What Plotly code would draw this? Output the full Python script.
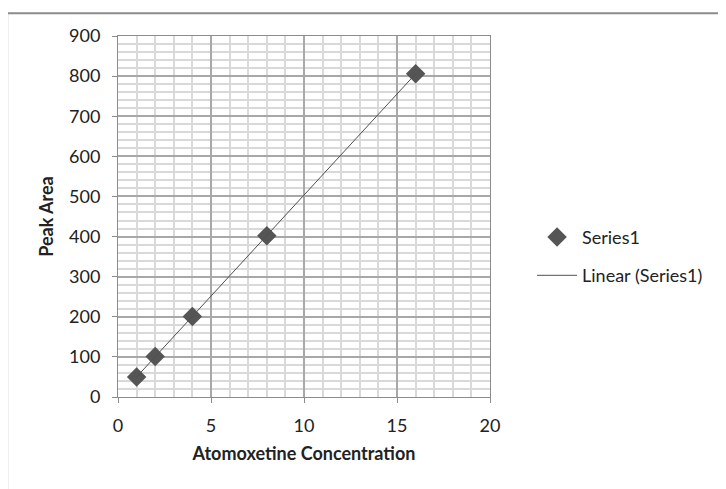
import numpy as np
import plotly.graph_objects as go

concentration = [1, 2, 4, 8, 16]
peak_area = [50, 101, 201, 402, 806]

x_ticks = [0, 5, 10, 15, 20]
y_ticks = [0, 100, 200, 300, 400, 500, 600, 700, 800, 900]

slope, intercept = np.polyfit(concentration, peak_area, 1)
fit_x = [min(concentration), max(concentration)]
fit_y = [slope * v + intercept for v in fit_x]

FONT = "Lato"

fig = go.Figure()
fig.add_trace(go.Scatter(
    x=concentration, y=peak_area, mode="markers", name="Series1",
    legendgroup="g1",
    marker=dict(symbol="diamond", size=15, color="#555555",
                line=dict(width=0)),
))
fig.add_trace(go.Scatter(
    x=fit_x, y=fit_y, mode="lines", name="Linear (Series1)",
    legendgroup="g2",
    line=dict(color="#505050", width=1),
))

axis_common = dict(
    showline=True, linecolor="#8c8c8c", linewidth=1, mirror=True,
    ticks="outside", ticklen=5, tickcolor="#8c8c8c",
    showgrid=True, gridcolor="#a8a8a8", gridwidth=1.5,
    zeroline=False,
    tickfont=dict(family=FONT, size=18, color="#222222"),
)

fig.update_xaxes(
    range=[0, 20], tickvals=x_ticks, ticklabelstandoff=7,
    minor=dict(dtick=1, showgrid=True, gridcolor="#d9d9d9", gridwidth=2, ticks=""),
    title=dict(text="<b>Atomoxetine Concentration</b>",
               font=dict(family=FONT, size=18, color="#222222"), standoff=12),
    **axis_common,
)
fig.update_yaxes(
    range=[0, 900], tickvals=y_ticks, ticklabelstandoff=8,
    minor=dict(dtick=20, showgrid=True, gridcolor="#d9d9d9", gridwidth=2, ticks=""),
    title=dict(text="<b>Peak Area</b>",
               font=dict(family=FONT, size=18, color="#222222"), standoff=10),
    **axis_common,
)

fig.add_shape(type="rect", xref="paper", yref="paper",
              x0=-0.298, x1=1.7, y0=-0.5, y1=1.063,
              line=dict(color="#8c8c8c", width=2), layer="below")

fig.update_layout(
    width=726, height=489,
    margin=dict(l=110, r=244, t=28, b=100),
    paper_bgcolor="white", plot_bgcolor="white",
    showlegend=True,
    legend=dict(x=1.113, y=0.39, xanchor="left", yanchor="middle",
                font=dict(family=FONT, size=18, color="#222222"),
                tracegroupgap=12, itemwidth=40),
)

fig.write_html("out.html")
